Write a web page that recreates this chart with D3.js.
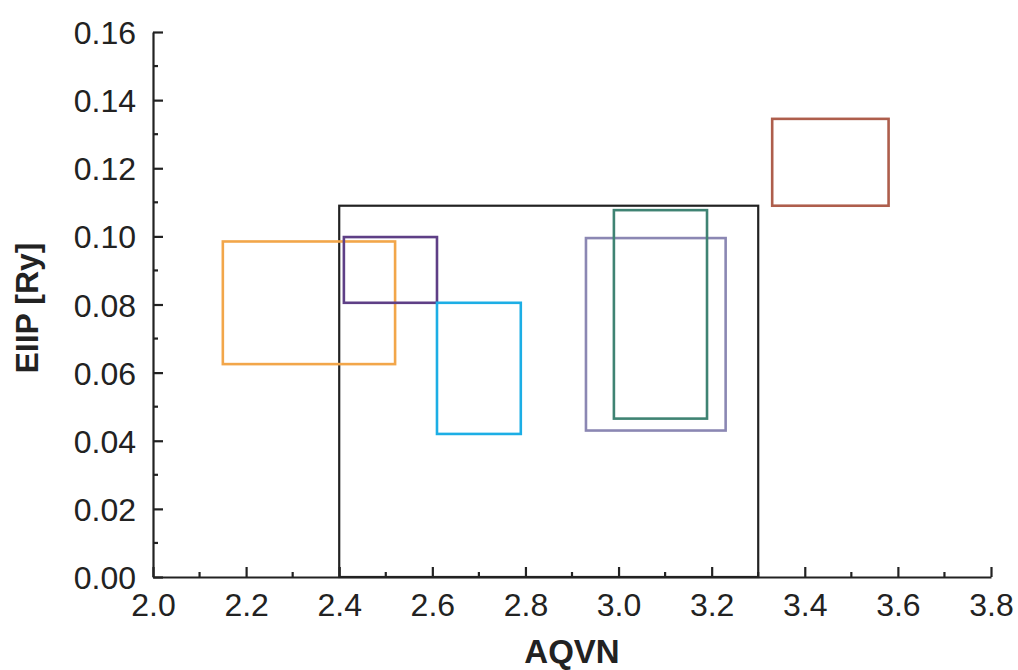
<!DOCTYPE html>
<html>
<head>
<meta charset="utf-8">
<script src="https://cdn.jsdelivr.net/npm/d3@7"></script>
<style>
  html, body { margin: 0; padding: 0; background: #fff; }
  svg { display: block; }
</style>
</head>
<body>
<svg id="chart" width="1018" height="670"></svg>
<script>
// ---- Data (AQVN range x0..x1, EIIP range y0..y1) ----
const groupNames = ["domain", "orange", "purple", "cyan", "lavender", "teal", "brown"];
const aqvnMin = [2.40, 2.15, 2.41, 2.61, 2.93, 2.99, 3.33];
const aqvnMax = [3.30, 2.52, 2.61, 2.79, 3.23, 3.19, 3.58];
const eiipMin = [0.000, 0.0625, 0.0805, 0.0420, 0.0430, 0.0465, 0.1090];
const eiipMax = [0.109, 0.0985, 0.0998, 0.0805, 0.0995, 0.1077, 0.1345];
const boxColors = ["#222222", "#F2A64A", "#5E3F86", "#1CAEE5", "#8B87B3", "#3F8373", "#AE5E4C"];

const xTickValues = [2.0, 2.2, 2.4, 2.6, 2.8, 3.0, 3.2, 3.4, 3.6, 3.8];
const xMinorTicks = [2.1, 2.3, 2.5, 2.7, 2.9, 3.1, 3.3, 3.5, 3.7];
const yTickValues = [0.00, 0.02, 0.04, 0.06, 0.08, 0.10, 0.12, 0.14, 0.16];
const yMinorTicks = [0.01, 0.03, 0.05, 0.07, 0.09, 0.11, 0.13, 0.15];
const xTitle = "AQVN";
const yTitle = "EIIP [Ry]";

// ---- Layout ----
const svg = d3.select("#chart");
const mLeft = 153, mRight = 991, mTop = 32, mBottom = 577;
const x = d3.scaleLinear().domain([2.0, 3.8]).range([mLeft, mRight]);
const y = d3.scaleLinear().domain([0, 0.16]).range([mBottom, mTop]);
const font = "'Liberation Sans', Arial, Helvetica, sans-serif";

const boxes = groupNames.map((n, i) => ({
  name: n, x0: aqvnMin[i], x1: aqvnMax[i], y0: eiipMin[i], y1: eiipMax[i], color: boxColors[i]
}));

// Boxes
svg.append("g").selectAll("rect").data(boxes).join("rect")
  .attr("x", d => x(d.x0))
  .attr("y", d => y(d.y1))
  .attr("width", d => x(d.x1) - x(d.x0))
  .attr("height", d => y(d.y0) - y(d.y1))
  .attr("fill", "none")
  .attr("stroke", d => d.color)
  .attr("stroke-width", d => d.name === "domain" ? 2.2 : 2.6);

// Axes
const axisColor = "#222";
const xAxis = d3.axisBottom(x).tickValues(xTickValues).tickFormat(d3.format(".1f")).tickSizeInner(-10).tickSizeOuter(0).tickPadding(16);
const xg = svg.append("g").attr("transform", `translate(0,${mBottom})`).call(xAxis);
const yAxis = d3.axisLeft(y).tickValues(yTickValues).tickFormat(d3.format(".2f")).tickSizeInner(-10).tickSizeOuter(0).tickPadding(17);
const yg = svg.append("g").attr("transform", `translate(${mLeft},0)`).call(yAxis);

[xg, yg].forEach(g => {
  g.select(".domain").attr("stroke", axisColor).attr("stroke-width", 2.2);
  g.selectAll(".tick line").attr("stroke", axisColor).attr("stroke-width", 2.2);
  g.selectAll(".tick text").attr("fill", "#222").style("font-family", font).style("font-size", "32px");
});
yg.selectAll(".tick text").attr("dy", "0.36em");

// minor ticks
svg.append("g").selectAll("line").data(xMinorTicks).join("line")
  .attr("x1", d => x(d)).attr("x2", d => x(d))
  .attr("y1", mBottom).attr("y2", mBottom - 5)
  .attr("stroke", axisColor).attr("stroke-width", 2.2);
svg.append("g").selectAll("line").data(yMinorTicks).join("line")
  .attr("x1", mLeft).attr("x2", mLeft + 5)
  .attr("y1", d => y(d)).attr("y2", d => y(d))
  .attr("stroke", axisColor).attr("stroke-width", 2.2);

// Titles
svg.append("text")
  .attr("x", 572).attr("y", 663)
  .attr("text-anchor", "middle")
  .style("font-family", font).style("font-size", "33px").style("font-weight", "bold")
  .attr("fill", "#222")
  .text(xTitle);
svg.append("text")
  .attr("transform", `translate(38,308) rotate(-90)`)
  .attr("text-anchor", "middle")
  .style("font-family", font).style("font-size", "32px").style("font-weight", "bold")
  .attr("fill", "#222")
  .text(yTitle);
</script>
</body>
</html>
